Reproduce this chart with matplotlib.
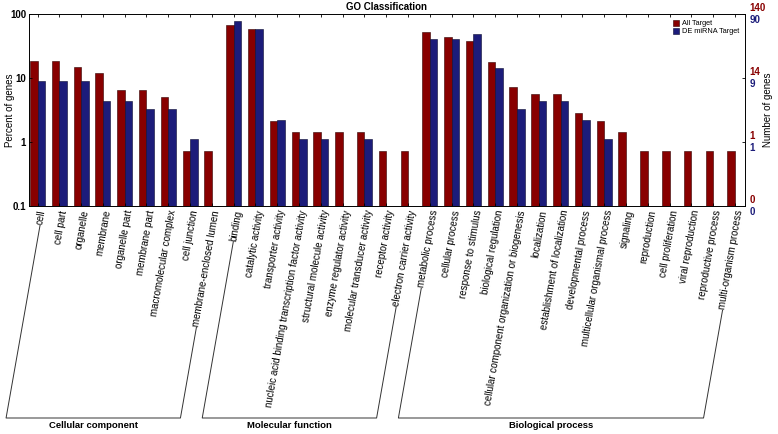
import matplotlib.pyplot as plt
import numpy as np
from matplotlib.lines import Line2D

plt.rcParams['font.family'] = ['Liberation Sans', 'DejaVu Sans']

RED = '#880000'
BLUE = '#1c1c7a'

cellular = ['cell', 'cell part', 'organelle', 'membrane', 'organelle part', 'membrane part',
            'macromolecular complex', 'cell junction', 'membrane-enclosed lumen']
molecular = ['binding', 'catalytic activity', 'transporter activity',
             'nucleic acid binding transcription factor activity', 'structural molecule activity',
             'enzyme regulator activity', 'molecular transducer activity', 'receptor activity',
             'electron carrier activity']
biological = ['metabolic process', 'cellular process', 'response to stimulus', 'biological regulation',
              'cellular component organization or biogenesis', 'localization',
              'establishment of localization', 'developmental process',
              'multicellular organismal process', 'signaling', 'reproduction', 'cell proliferation',
              'viral reproduction', 'reproductive process', 'multi-organism process']
groups = ['Cellular component', 'Molecular function', 'Biological process']

# percent of genes
all_target = [18.6, 18.6, 15.0, 12.1, 6.43, 6.43, 5.0, 0.714, 0.714,
              67.9, 57.9, 2.14, 1.43, 1.43, 1.43, 1.43, 0.714, 0.714,
              52.1, 43.6, 37.9, 17.9, 7.14, 5.71, 5.71, 2.86, 2.14, 1.43,
              0.714, 0.714, 0.714, 0.714, 0.714]
de_target = [8.9, 8.9, 8.9, 4.44, 4.44, 3.33, 3.33, 1.11, 0,
             76.7, 58.9, 2.22, 1.11, 1.11, 0, 1.11, 0, 0,
             41.1, 40.0, 48.9, 14.4, 3.33, 4.44, 4.44, 2.22, 1.11, 0,
             0, 0, 0, 0, 0]

labels = cellular + molecular + biological
sizes = [len(cellular), len(molecular), len(biological)]
x = np.arange(1, len(labels) + 1)
w = 0.345

fig = plt.figure(figsize=(7.78, 4.34), dpi=100)
ax = fig.add_axes([29/778, 1 - 206/434, 716/778, 192/434])

ax.bar(x - w/2, all_target, w, color=RED, edgecolor='#300000', linewidth=0.4, label='All Target')
ax.bar(x + w/2, de_target, w, color=BLUE, edgecolor='#0a0a30', linewidth=0.4, label='DE miRNA Target')

ax.set_yscale('log')
ax.set_ylim(0.1, 100)
ax.set_xlim(0.61, 33.46)
ax.set_yticks([0.1, 1, 10, 100])
ax.set_yticklabels(['0.1', '1', '10', '100'], fontsize=7, fontweight='bold')
ax.minorticks_off()
ax.set_xticks(x)
ax.set_xticklabels([])
ax.tick_params(axis='both', direction='in', length=2.5, top=True, right=True, width=0.6, pad=2)
for s in ax.spines.values():
    s.set_linewidth(0.7)
fig.text(10/778, 1 - 110/434, 'Percent of genes', rotation=90, fontsize=7, ha='center', va='center')
ax.set_title('GO Classification', fontsize=7, fontweight='bold', pad=3)

leg = ax.legend(loc='upper right', fontsize=5.3, frameon=False, handlelength=0.8,
                handleheight=0.8, handletextpad=0.4, borderaxespad=0.4, labelspacing=0.1)

# right hand axis: number of genes
for pct, rl, bl in [(100, '140', '90'), (10, '14', '9'), (1, '1', '1'), (0.1, '0', '0')]:
    ax.annotate(rl, (1, pct), xycoords=('axes fraction', 'data'), xytext=(3, 1),
                textcoords='offset points', color=RED, fontsize=7, fontweight='bold', va='bottom')
    ax.annotate(bl, (1, pct), xycoords=('axes fraction', 'data'), xytext=(3, -1),
                textcoords='offset points', color=BLUE, fontsize=7, fontweight='bold', va='top')
fig.text(768/778, 1 - 110/434, 'Number of genes', rotation=90, fontsize=7, ha='center', va='center')

# category labels
ang = 80
dx, dy = 3.5, -3
texts = []
for xi, lab in zip(x, labels):
    t = ax.annotate(lab, (xi, 0.1), xycoords='data', xytext=(dx, dy), textcoords='offset points',
                    rotation=ang, rotation_mode='anchor', ha='right', va='center',
                    fontsize=7)
    texts.append(t)

fig.canvas.draw()
renderer = fig.canvas.get_renderer()
tr = np.tan(np.radians(ang))
H = 434
ybot = 16  # bracket bottom, pixels from figure bottom


def start_point(t):
    # lower end of a rotated label, in display pixels
    bb = t.get_window_extent(renderer)
    ax0, ay0 = ax.transData.transform((t.xy[0], 0.1))
    ax0 += dx * 100 / 72
    ay0 += dy * 100 / 72
    ys = bb.y0 + 2
    xs = ax0 - (ay0 - ys) / tr
    return xs, ys


i0 = 0
for g, n in zip(groups, sizes):
    first, last = texts[i0], texts[i0 + n - 1]
    x1, y1 = start_point(first)
    x2, y2 = start_point(last)
    y1 -= 2
    y2 -= 2
    bx1 = x1 - (y1 - ybot) / tr
    bx2 = x2 - (y2 - ybot) / tr
    xs = [x1, bx1, bx2, x2]
    ys = [y1, ybot, ybot, y2]
    fig.add_artist(Line2D([v / 778 for v in xs], [v / H for v in ys], color='#333333',
                          linewidth=0.7, transform=fig.transFigure))
    fig.text((bx1 + bx2) / 2 / 778, (ybot - 3) / H, g, ha='center', va='top',
             fontsize=6.8, fontweight='bold')
    i0 += n

fig.savefig('out.png', dpi=100)
